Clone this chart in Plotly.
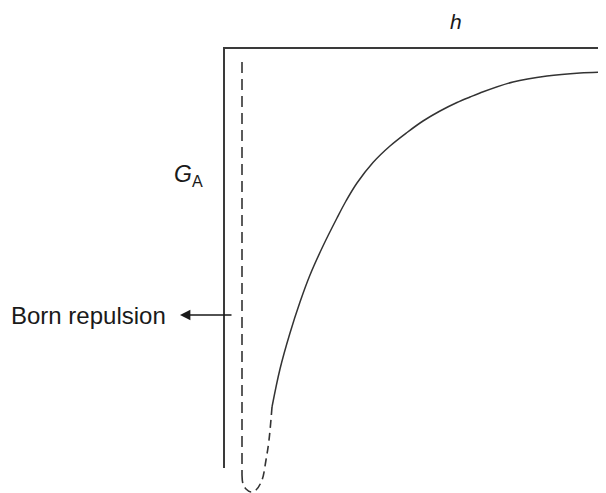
import plotly.graph_objects as go

# Units: arbitrary (h = separation distance, G_A = interaction energy)
axis_h = [0.0, 0.0, 38.2]
axis_G = [-42.0, 0.0, 0.0]

born_h = [1.8, 1.8]
born_G = [-1.4, -42.7]

well_h = [1.8, 1.9, 2.2, 2.7, 3.2, 3.8, 4.2, 4.5, 4.8]
well_G = [-42.7, -43.6, -44.1, -44.4, -44.2, -43.2, -41.2, -39.2, -35.9]

curve_h = [4.8, 5.6, 6.6, 7.6, 8.6, 9.9, 11.3, 12.2, 13.3, 14.9, 16.6, 18.3, 19.9,
           21.6, 23.3, 24.6, 25.6, 28.9, 32.3, 35.6, 38.2]
curve_G = [-35.9, -32.1, -28.5, -25.4, -22.7, -19.8, -17.0, -15.3, -13.5, -11.45, -9.8,
           -8.45, -7.3, -6.3, -5.45, -4.9, -4.5, -3.4, -2.8, -2.5, -2.4]

FONT = "Liberation Sans, Arial, Helvetica, sans-serif"
INK = "#333333"
TXT = "#1a1a1a"

fig = go.Figure()
fig.add_trace(go.Scatter(x=axis_h, y=axis_G, mode="lines",
                         line=dict(color="#3a3a3a", width=2), hoverinfo="skip"))
fig.add_trace(go.Scatter(x=born_h, y=born_G, mode="lines",
                         line=dict(color=INK, width=1.6, dash="11px,6px"), hoverinfo="skip"))
fig.add_trace(go.Scatter(x=well_h, y=well_G, mode="lines", line_shape="spline",
                         line=dict(color=INK, width=1.6, dash="8px,5px"), hoverinfo="skip"))
fig.add_trace(go.Scatter(x=curve_h, y=curve_G, mode="lines", line_shape="spline",
                         line=dict(color=INK, width=1.5), hoverinfo="skip"))

fig.add_annotation(x=-21.5, y=-26.7, text="Born repulsion", showarrow=False,
                   xanchor="left", yanchor="middle",
                   font=dict(family=FONT, size=24, color=TXT))
fig.add_annotation(x=-4.4, y=-26.7, ax=0.9, ay=-26.7, axref="x", ayref="y",
                   text="", showarrow=True, arrowhead=2, arrowsize=1.3,
                   arrowwidth=1.6, arrowcolor=TXT)
fig.add_annotation(x=-5.2, y=-12.7, text="<i>G</i><sub>A</sub>", showarrow=False,
                   xanchor="left", yanchor="middle",
                   font=dict(family=FONT, size=23, color=TXT))
fig.add_annotation(x=23.2, y=2.7, text="<i>h</i>", showarrow=False,
                   xanchor="center", yanchor="middle",
                   font=dict(family=FONT, size=21, color=TXT))

# page body has an 8px margin: figure is sized/ranged so it fills the visible window
fig.update_layout(
    width=598, height=485,
    margin=dict(l=0, r=0, t=0, b=0),
    paper_bgcolor="white", plot_bgcolor="white",
    showlegend=False,
    xaxis=dict(range=[-21.6, 38.2], visible=False, fixedrange=True),
    yaxis=dict(range=[-44.5, 4.0], visible=False, fixedrange=True),
)

fig.write_html("out.html")
